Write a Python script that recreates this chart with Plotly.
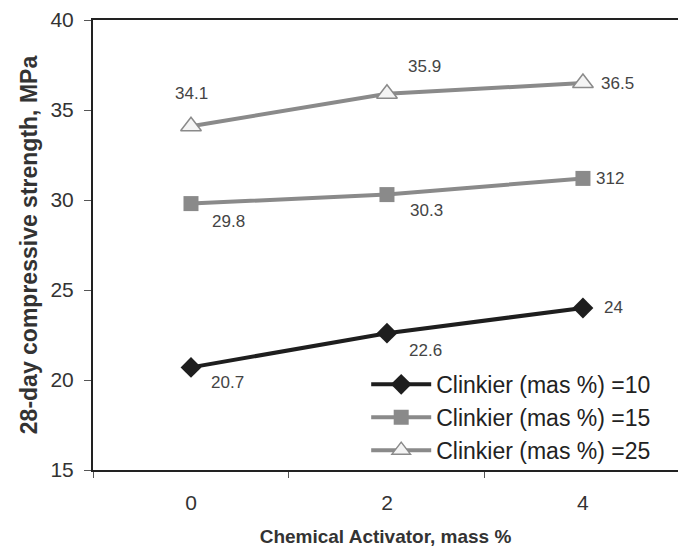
import plotly.graph_objects as go

categories = ["0", "2", "4"]
clinker10 = [20.7, 22.6, 24]
clinker15 = [29.8, 30.3, 31.2]
clinker25 = [34.1, 35.9, 36.5]
labels10 = ["20.7", "22.6", "24"]
labels15 = ["29.8", "30.3", "312"]
labels25 = ["34.1", "35.9", "36.5"]
names = ["Clinkier (mas %) =10", "Clinkier (mas %) =15", "Clinkier (mas %) =25"]

fig = go.Figure()
fig.add_trace(go.Scatter(x=categories, y=clinker10, name=names[0], mode="lines+markers",
                         line=dict(color="#1e1e1e", width=4),
                         marker=dict(symbol="diamond", size=16, color="#1e1e1e")))
fig.add_trace(go.Scatter(x=categories, y=clinker15, name=names[1], mode="lines+markers",
                         line=dict(color="#8a8a8a", width=4),
                         marker=dict(symbol="square", size=15, color="#8a8a8a")))
fig.add_trace(go.Scatter(x=categories, y=clinker25, name=names[2], mode="lines+markers",
                         line=dict(color="#8a8a8a", width=4),
                         marker=dict(symbol="triangle-up", size=18, color="#f4f4f4",
                                     line=dict(color="#8a8a8a", width=1.5))))

lab_font = dict(family="Liberation Sans, Arial", size=17, color="#444")
offsets10 = [(37, -15), (39, -17), (31, 1)]
offsets15 = [(38, -18), (40, -16), (27, 0)]
offsets25 = [(1, 33), (38, 27), (35, 0)]
for ys, labs, offs in [(clinker10, labels10, offsets10), (clinker15, labels15, offsets15),
                       (clinker25, labels25, offsets25)]:
    for i, (v, t, (dx, dy)) in enumerate(zip(ys, labs, offs)):
        fig.add_annotation(x=i, y=v, text=t, showarrow=False, xshift=dx, yshift=dy,
                           xanchor="center", yanchor="middle", font=lab_font)

fig.update_layout(
    width=678, height=549,
    margin=dict(l=93, r=0, t=20, b=79),
    paper_bgcolor="white", plot_bgcolor="white",
    font=dict(family="Liberation Sans, Arial", color="#333"),
    showlegend=True,
    legend=dict(x=0.467, y=0.238, xanchor="left", yanchor="top",
                bgcolor="rgba(0,0,0,0)", font=dict(size=23, color="#222"),
                itemwidth=60, tracegroupgap=0),
    xaxis=dict(type="category", range=[-0.5, 2.485], tickson="boundaries",
               ticks="outside", ticklen=6, tickcolor="#555",
               showline=True, linecolor="#222", linewidth=2, mirror=True,
               showgrid=False, tickfont=dict(size=21, color="#333"),
               ticklabelstandoff=13,
               title=dict(text="<b>Chemical Activator, mass %</b>", font=dict(size=19, color="#333"),
                          standoff=16)),
    yaxis=dict(range=[15, 40], dtick=5, ticks="outside", ticklen=7, tickcolor="#555",
               showline=True, linecolor="#222", linewidth=2,
               showgrid=False, zeroline=False, tickfont=dict(size=21, color="#333"),
               ticklabelstandoff=6,
               title=dict(text="<b>28-day compressive strength, MPa</b>", font=dict(size=23, color="#333"),
                          standoff=6)),
)

fig.write_html("out.html")
